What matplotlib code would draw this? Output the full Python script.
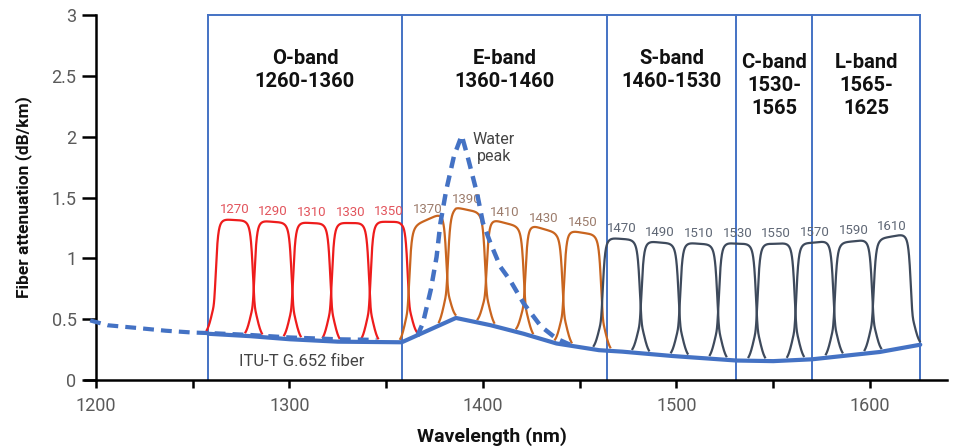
import numpy as np
from matplotlib import pyplot as plt

plt.rcParams['font.family'] = ['Roboto', 'DejaVu Sans']

# fibre attenuation curve (solid) and its dashed extension
fiber_nm = [1258, 1280, 1300, 1325, 1358, 1386, 1404, 1421, 1438, 1460, 1472, 1498, 1531, 1550, 1570, 1605, 1626]
fiber_db = [0.38, 0.36, 0.335, 0.315, 0.31, 0.51, 0.45, 0.38, 0.30, 0.245, 0.233, 0.197, 0.16, 0.155, 0.17, 0.23, 0.29]
ext_nm = [1197, 1206, 1223, 1236, 1250, 1260, 1280, 1300, 1325, 1345]
ext_db = [0.49, 0.45, 0.425, 0.405, 0.39, 0.385, 0.37, 0.35, 0.335, 0.33]

# water peak (dashed)
peak_nm = [1366, 1369, 1373, 1376, 1378, 1381, 1385, 1389, 1392, 1397, 1400, 1404, 1409, 1414, 1421, 1430, 1438, 1445]
peak_db = [0.36, 0.47, 0.74, 1.01, 1.29, 1.56, 1.84, 2.01, 1.84, 1.53, 1.29, 1.12, 0.93, 0.82, 0.63, 0.44, 0.34, 0.29]

# CWDM channels
channels = [1270, 1290, 1310, 1330, 1350, 1370, 1390, 1410, 1430, 1450,
            1470, 1490, 1510, 1530, 1550, 1570, 1590, 1610]
channel_top = [1.315, 1.30, 1.29, 1.29, 1.30, 1.32, 1.40, 1.29, 1.24, 1.21,
               1.16, 1.13, 1.12, 1.12, 1.12, 1.13, 1.14, 1.18]

# bands (edges as drawn)
band_edges = [1258, 1358, 1464, 1531, 1570, 1626]
band_labels = ['O-band\n1260-1360', 'E-band\n1360-1460', 'S-band\n1460-1530',
               'C-band\n1530-\n1565', 'L-band\n1565-\n1625']

BLUE = '#4472c4'


def channel_style(nm):
    if nm < 1360:
        return '#ee1c1c', '#e2545c'
    if nm < 1460:
        return '#c9651f', '#9c7c6c'
    return '#3e4a5c', '#5f6775'


def filter_shape(d):
    # flat top, steep sides, flared foot
    return 0.55 * np.exp(-(d / 9.7) ** 14) + 0.45 * np.exp(-(d / 11.7) ** 5)


def PlotChart():
    fig = plt.figure(figsize=(9.58, 4.48), dpi=100)
    ax = fig.add_axes([0.0891, 0.1518, 0.8998, 0.8147])

    # band boxes
    ax.plot([band_edges[0], band_edges[-1]], [3, 3], color=BLUE, lw=1.4, clip_on=False, zorder=2)
    for e in band_edges:
        ax.plot([e, e], [0, 3], color=BLUE, lw=1.4, clip_on=False, zorder=2)
    for i, lab in enumerate(band_labels):
        mid = (band_edges[i] + band_edges[i + 1]) / 2
        yy = 2.545 if lab.count('\n') == 1 else 2.42
        ax.text(mid, yy, lab, ha='center', va='center', fontsize=14.5,
                fontweight='bold', color='#111111', linespacing=1.25)

    # channels
    for c, top in zip(channels, channel_top):
        cc = c + 1.5
        line_col, text_col = channel_style(c)
        x = np.linspace(cc - 15, cc + 15, 400)
        base = np.interp(x, fiber_nm, fiber_db)
        h = top - np.interp(cc, fiber_nm, fiber_db)
        f = filter_shape(np.abs(x - cc))
        keep = f > 0.03
        ax.plot(x[keep], base[keep] + h * f[keep], color=line_col, lw=1.6, zorder=3)
        ax.text(cc, top + 0.085, str(c), ha='center', va='center', fontsize=9.5, color=text_col, zorder=4)

    # attenuation curves
    ax.plot(ext_nm, ext_db, color=BLUE, lw=3, linestyle=(0, (2.6, 1.7)), clip_on=False, zorder=4)
    ax.plot(peak_nm, peak_db, color=BLUE, lw=3.2, linestyle=(0, (2.6, 1.7)), zorder=5)
    ax.plot(fiber_nm, fiber_db, color=BLUE, lw=3, solid_capstyle='round', zorder=5)

    ax.text(1405.5, 1.91, 'Water\npeak', ha='center', va='center', fontsize=11.5, color='#444444', linespacing=1.15)
    ax.text(1306.5, 0.15, 'ITU-T G.652 fiber', ha='center', va='center', fontsize=12, color='#444444')

    # axes styling
    ax.set_xlim(1194.5, 1640)
    ax.set_ylim(0, 3)
    ax.spines['left'].set_position(('data', 1200))
    ax.spines['top'].set_visible(False)
    ax.spines['right'].set_visible(False)
    for s in ('left', 'bottom'):
        ax.spines[s].set_linewidth(1.8)
    ticks = np.arange(1200, 1601, 50)
    ax.set_xticks(ticks)
    ax.set_xticklabels([str(t) if t % 100 == 0 else '' for t in ticks])
    ax.set_yticks(np.arange(0, 3.01, 0.5))
    ax.set_yticklabels(['0', '0.5', '1', '1.5', '2', '2.5', '3'])
    ax.tick_params(axis='x', length=6, width=1.8, pad=6, labelsize=13, labelcolor='#5a5a5a')
    ax.tick_params(axis='y', length=10, width=1.8, pad=4, labelsize=13, labelcolor='#5a5a5a')

    ax.set_ylabel('Fiber attenuation (dB/km)', fontsize=12.5, fontweight='bold', color='#111111')
    ax.yaxis.set_label_coords(-0.062, 0.5)
    ax.set_xlabel('Wavelength (nm)', fontsize=14, fontweight='bold', color='#111111')
    ax.xaxis.set_label_coords((492 - 85.4) / 862, -0.13)

    fig.savefig('out.png', dpi=100)


if __name__ == "__main__":
    PlotChart()
